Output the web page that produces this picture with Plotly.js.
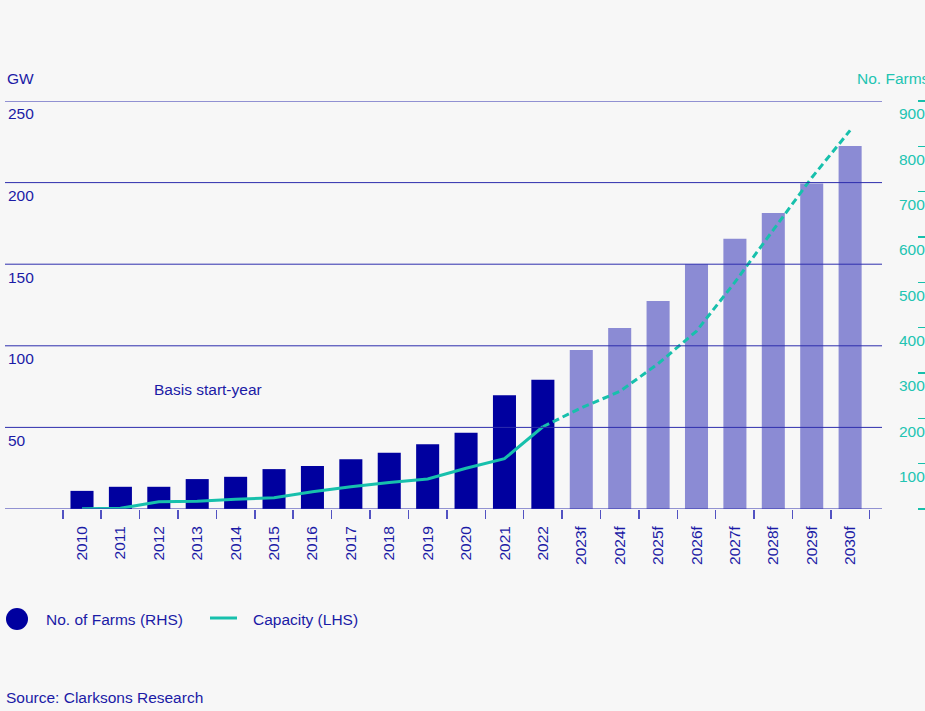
<!DOCTYPE html>
<html>
<head>
<meta charset="utf-8">
<script src="https://cdn.plot.ly/plotly-3.0.1.min.js"></script>
<style>html,body{margin:0;padding:0;background:#f7f7f7;}</style>
</head>
<body>
<div id="chart" style="width:925px;height:711px;"></div>
<script>
// ---- data ----
const years = ['2010','2011','2012','2013','2014','2015','2016','2017','2018','2019','2020','2021','2022',
               '2023f','2024f','2025f','2026f','2027f','2028f','2029f','2030f'];
const farms = [40, 49, 49, 66, 71, 88, 95, 110, 124, 143, 168, 251, 285,
               351, 399, 459, 540, 596, 653, 718, 801];
const capacityGW = [0.2, 0.4, 4.5, 4.7, 5.9, 6.9, 10.6, 13.7, 16.3, 18.4, 25, 30.8, 50.4,
                    62, 72, 89, 109, 139, 171, 203, 232];
const lastActual = '2022';
const gwTicks = [0, 50, 100, 150, 200, 250];
const farmTickMarks = [0, 100, 200, 300, 400, 500, 600, 700, 800, 900];
const farmTickLabels = [100, 200, 300, 400, 500, 600, 700, 800, 900];

// ---- styles ----
const NAVY = '#00009f';
const LIGHT = '#8b8bd4';
const TEAL = '#17c0ac';
const TXT = '#1b1ba6';
const TTXT = '#22c4b2';
const GRID = '#2d2dad';
const FONT = 'Liberation Sans, Arial, sans-serif';

const cut = years.indexOf(lastActual);
const barColors = years.map(y => y.endsWith('f') ? LIGHT : NAVY);

const traces = [
  {type: 'bar', x: years, y: farms, yaxis: 'y', marker: {color: barColors, line: {width: 0}},
   width: 0.6, showlegend: false},
  {type: 'scatter', mode: 'lines', x: years.slice(0, cut + 1), y: capacityGW.slice(0, cut + 1),
   yaxis: 'y2', line: {color: TEAL, width: 3}, showlegend: false},
  {type: 'scatter', mode: 'lines', x: years.slice(cut), y: capacityGW.slice(cut),
   yaxis: 'y2', line: {color: TEAL, width: 3, dash: '7px,4px'}, showlegend: false},
  {type: 'scatter', mode: 'lines', x: [], y: [], yaxis: 'y3', showlegend: false, hoverinfo: 'skip'}
];

const L = 5, R = 5, T = 101, B = 202;
const W = 925 - L - R, H = 711 - T - B;
const px = x => (x - L) / W;
const py = y => (711 - B - y) / H;
const plotRight = px(882);

const gridShapes = gwTicks.map(v => ({
  type: 'line', xref: 'paper', yref: 'y2', x0: 0, x1: plotRight, y0: v, y1: v,
  layer: 'above', line: {color: GRID, width: 1}
}));

const layout = {
  width: 925, height: 711,
  margin: {l: L, r: R, t: T, b: B, pad: 0},
  paper_bgcolor: '#f7f7f7', plot_bgcolor: '#f7f7f7',
  font: {family: FONT, size: 15, color: TXT},
  showlegend: false,
  xaxis: {
    type: 'category', domain: [0, plotRight], range: [-2.005, 20.83],
    tickson: 'boundaries', ticks: 'outside', ticklen: 9, tickcolor: '#5252c2', tickwidth: 1.5,
    showgrid: false, showline: false, zeroline: false,
    tickangle: -90, ticklabelstandoff: 13,
    tickfont: {family: FONT, size: 15.5, color: TXT}
  },
  yaxis: {
    range: [0, 900], tickvals: farmTickLabels, side: 'right', anchor: 'free',
    position: px(898), showgrid: false, zeroline: false, showline: false, ticks: '',
    ticklabelshift: 13, tickfont: {family: FONT, size: 15.5, color: TTXT}
  },
  yaxis2: {
    range: [0, 250], tickvals: gwTicks, overlaying: 'y', side: 'left', anchor: 'x',
    showgrid: false, zeroline: false, showline: false,
    ticks: '', ticklabelposition: 'inside', ticklabelshift: 13,
    tickfont: {family: FONT, size: 15.5, color: TXT}
  },
  yaxis3: {
    range: [0, 900], tickvals: farmTickMarks, overlaying: 'y', side: 'right', anchor: 'free',
    position: px(917), showgrid: false, zeroline: false, showline: false,
    ticks: 'outside', ticklen: 8, tickwidth: 1.5, tickcolor: TEAL, showticklabels: false
  },
  shapes: gridShapes.concat([
    {type: 'circle', xref: 'paper', yref: 'paper', x0: px(6), x1: px(28), y0: py(630), y1: py(608),
     fillcolor: NAVY, line: {width: 0}},
    {type: 'line', xref: 'paper', yref: 'paper', x0: px(210), x1: px(237), y0: py(618), y1: py(618),
     line: {color: TEAL, width: 3}}
  ]),
  annotations: [
    {xref: 'paper', yref: 'paper', x: px(5), y: py(79), xanchor: 'left', yanchor: 'middle',
     text: 'GW', showarrow: false, font: {family: FONT, size: 15.5, color: TXT}},
    {xref: 'paper', yref: 'paper', x: px(855), y: py(79), xanchor: 'left', yanchor: 'middle',
     text: 'No. Farms', showarrow: false, font: {family: FONT, size: 15.5, color: TTXT}},
    {xref: 'paper', yref: 'paper', x: px(152), y: py(389), xanchor: 'left', yanchor: 'middle',
     text: 'Basis start-year', showarrow: false, font: {family: FONT, size: 15.5, color: TXT}},
    {xref: 'paper', yref: 'paper', x: px(44), y: py(619), xanchor: 'left', yanchor: 'middle',
     text: 'No. of Farms (RHS)', showarrow: false, font: {family: FONT, size: 15.5, color: TXT}},
    {xref: 'paper', yref: 'paper', x: px(251), y: py(619), xanchor: 'left', yanchor: 'middle',
     text: 'Capacity (LHS)', showarrow: false, font: {family: FONT, size: 15.5, color: TXT}},
    {xref: 'paper', yref: 'paper', x: px(4), y: py(697), xanchor: 'left', yanchor: 'middle',
     text: 'Source: Clarksons Research', showarrow: false, font: {family: FONT, size: 15.5, color: TXT}}
  ]
};

Plotly.newPlot('chart', traces, layout, {displayModeBar: false, staticPlot: true});
</script>
</body>
</html>
